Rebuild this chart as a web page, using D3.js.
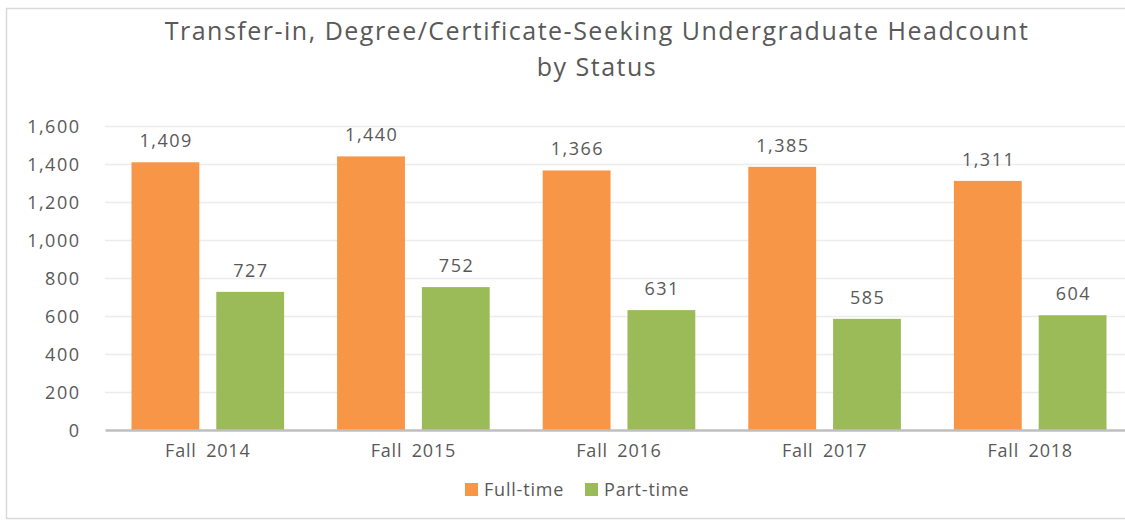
<!DOCTYPE html>
<html>
<head>
<meta charset="utf-8">
<script src="https://cdn.jsdelivr.net/npm/d3@7"></script>
<style>
  body { margin: 0; background: #fff; }
  #chart { width: 1125px; height: 521px; }
  text { font-family: "Open Sans", "Liberation Sans", sans-serif; fill: #595959; }
</style>
</head>
<body>
<div id="chart"></div>
<script>
const categories = ["Fall 2014", "Fall 2015", "Fall 2016", "Fall 2017", "Fall 2018"];
const fullTime = [1409, 1440, 1366, 1385, 1311];
const partTime = [727, 752, 631, 585, 604];
const yTicks = [0, 200, 400, 600, 800, 1000, 1200, 1400, 1600];
const seriesNames = ["Full-time", "Part-time"];

function renderChart(containerSelector) {
    const container = d3.select(containerSelector);
    const width = 1125, height = 521;

    const data = categories.map((c, i) => ({ cat: c, "Full-time": fullTime[i], "Part-time": partTime[i] }));

    const margin = { top: 126, right: -8, bottom: 91, left: 105 };

    const svg = container.append("svg")
        .attr("width", width)
        .attr("height", height);

    // chart border
    svg.append("rect")
        .attr("x", 6.5).attr("y", 8.5)
        .attr("width", width + 10).attr("height", height - 11)
        .attr("fill", "none").attr("stroke", "#d9d9d9").attr("stroke-width", 1.5);

    const x = d3.scaleBand()
        .domain(categories)
        .range([margin.left, width - margin.right]);

    const xInner = d3.scaleBand()
        .domain(seriesNames)
        .range([26.5, x.bandwidth() - 26.5])
        .paddingInner(0.2);

    const y = d3.scaleLinear()
        .domain([0, 1600])
        .range([height - margin.bottom, margin.top]);

    const color = d3.scaleOrdinal()
        .domain(seriesNames)
        .range(["#f79646", "#9bbb59"]);

    // grid
    svg.append("g")
        .attr("transform", `translate(${margin.left},0)`)
        .call(d3.axisLeft(y).tickValues(yTicks.slice(1)).tickSize(-(width - margin.right - margin.left)).tickFormat(""))
        .call(g => g.select(".domain").remove())
        .call(g => g.selectAll("line").attr("stroke", "#ececec").attr("stroke-width", 1.5));

    // y labels
    svg.append("g")
        .attr("transform", `translate(${margin.left},0)`)
        .call(d3.axisLeft(y).tickValues(yTicks).tickSize(0).tickPadding(24.5).tickFormat(d3.format(",")))
        .call(g => g.select(".domain").remove())
        .selectAll("text").style("font-size", "18px").style("letter-spacing", "1.5px").attr("dy", "0.35em");

    const groups = svg.selectAll("g.cat")
        .data(data)
        .join("g")
        .attr("class", "cat")
        .attr("transform", d => `translate(${x(d.cat)},0)`);

    groups.selectAll("rect")
        .data(d => seriesNames.map(k => ({ key: k, value: d[k] })))
        .join("rect")
        .attr("x", d => xInner(d.key))
        .attr("width", xInner.bandwidth())
        .attr("y", d => y(d.value))
        .attr("height", d => y(0) - y(d.value))
        .attr("fill", d => color(d.key));

    groups.selectAll("text.val")
        .data(d => seriesNames.map(k => ({ key: k, value: d[k] })))
        .join("text")
        .attr("class", "val")
        .attr("x", d => xInner(d.key) + xInner.bandwidth() / 2 + 0.75)
        .attr("y", d => y(d.value) - 15)
        .attr("text-anchor", "middle")
        .style("font-size", "18px")
        .style("letter-spacing", "1.5px")
        .text(d => d3.format(",")(d.value));

    // x axis
    svg.append("g")
        .attr("transform", `translate(0,${y(0)})`)
        .call(d3.axisBottom(x).tickSize(0).tickPadding(14))
        .call(g => g.select(".domain").attr("stroke", "#bfbfbf").attr("stroke-width", 2.5))
        .selectAll("text").style("font-size", "18px").style("letter-spacing", "0.8px").style("word-spacing", "4px");

    // title
    const title = svg.append("text")
        .attr("x", 597)
        .attr("text-anchor", "middle")
        .style("font-size", "25px")
        .style("letter-spacing", "1.5px");
    title.append("tspan").attr("x", 597).attr("y", 40).text("Transfer-in, Degree/Certificate-Seeking Undergraduate Headcount");
    title.append("tspan").attr("x", 597).attr("y", 76).text("by Status");

    // legend
    const legend = svg.append("g").attr("transform", "translate(465, 483)");
    seriesNames.forEach((s, i) => {
        const lg = legend.append("g").attr("transform", `translate(${i * 120}, 0)`);
        lg.append("rect").attr("width", 13).attr("height", 13).attr("fill", color(s));
        lg.append("text").attr("x", 19).attr("y", 13).text(s).style("font-size", "18px").style("letter-spacing", "0.8px");
    });
}

renderChart("#chart");
</script>
</body>
</html>
